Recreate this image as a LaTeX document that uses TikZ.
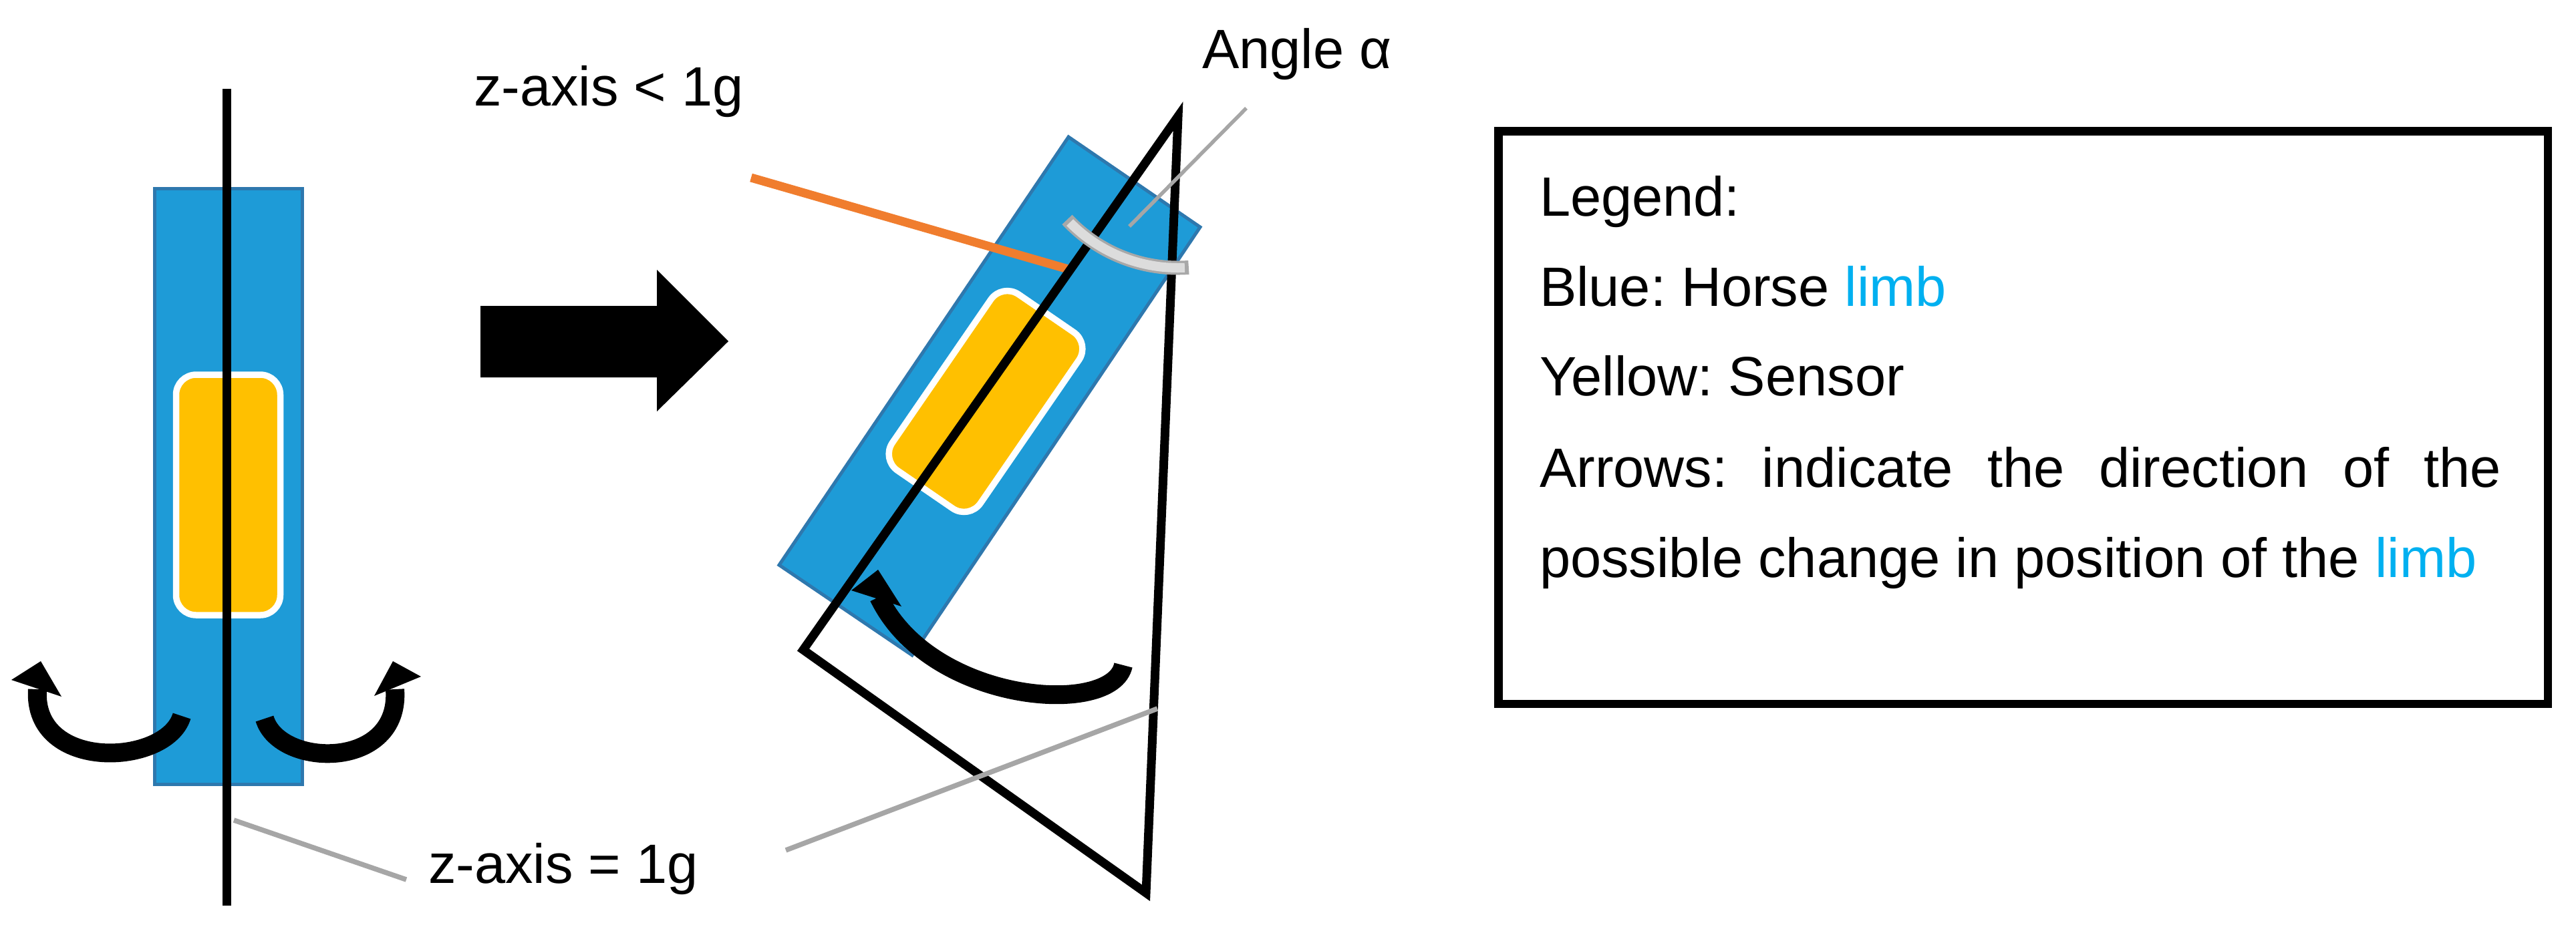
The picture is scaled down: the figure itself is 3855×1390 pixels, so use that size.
\documentclass[tikz,border=0pt]{standalone}
\usepackage{fontspec}
\setmainfont{Liberation Sans}
\frenchspacing
\definecolor{limbblue}{HTML}{1E9BD7}
\definecolor{limbedge}{HTML}{2E78AE}
\definecolor{sensor}{HTML}{FFC000}
\definecolor{orangeline}{HTML}{F07D2E}
\definecolor{callgray}{HTML}{A6A6A6}
\definecolor{arcgray}{HTML}{A8A8A8}
\definecolor{arclight}{HTML}{DCDCDC}
\definecolor{legblue}{HTML}{00B0F0}
\begin{document}
\begin{tikzpicture}[x=0.1pt,y=-0.1pt,
  lbl/.style={font=\fontsize{8.3}{10}\selectfont, inner sep=0pt, anchor=base west},
  limbshape/.style={fill=limbblue, draw=limbedge, line width=0.5pt},
  sensorshape/.style={fill=sensor, draw=white, line width=0.95pt, rounded corners=3pt},
  curvarrow/.style={line width=2.8pt},
  headshape/.style={fill=black},
  axisline/.style={line width=1.3pt, line join=miter},
  callout/.style={draw=callgray, line width=0.75pt}]
\useasboundingbox (0,0) rectangle (3855,1390);

% ---------- left: vertical limb ----------
\draw[limbshape] (231.5,282.5) rectangle (452.5,1174.5);
\draw[sensorshape] (263.5,561) rectangle (419.5,921);
\coordinate (vtop) at (339,133);
\coordinate (vbot) at (339,1356);
\draw[axisline] (vtop) -- (vbot);

% curved arrows (left limb)
\coordinate (la0) at (272,1072);
\coordinate (la1) at (56,1032);
\draw[curvarrow] (la0) .. controls (250,1147) and (48,1157) .. (la1);
\fill[headshape] (61,990) -- (17,1018) -- (92,1043) -- cycle;
\coordinate (ra0) at (396,1076);
\coordinate (ra1) at (591,1032);
\draw[curvarrow] (ra0) .. controls (418,1150) and (600,1154) .. (ra1);
\fill[headshape] (588,990) -- (560,1042) -- (630,1013) -- cycle;

% gray callout to "z-axis = 1g"
\node[lbl] (zeq) at (639,1322) {z-axis = 1g};
\coordinate (g1a) at (350,1228);
\coordinate (g1b) at (608,1317);
\draw[callout] (g1a) -- (g1b);

% ---------- big transition arrow ----------
\fill (719,458) -- (983,458) -- (983,404) -- (1090,511) -- (983,616) -- (983,565) -- (719,565) -- cycle;

% ---------- right: tilted limb ----------
\node[lbl] (zless) at (707,158) {z-axis < 1g};
\draw[limbshape] (1599,205) -- (1796,340) -- (1365,981) -- (1166,846) -- cycle;
\begin{scope}[shift={(1475,601)}, rotate=-34.5]
  \draw[sensorshape] (-80,-160) rectangle (80,160);
\end{scope}

% orange line
\coordinate (or0) at (1124,266);
\coordinate (or1) at (1602,404);
\draw[orangeline, line width=1.3pt] (or0) -- (or1);

% triangle (tilted axis)
\coordinate (A) at (1763,174);
\coordinate (B) at (1202,973);
\coordinate (C) at (1715,1337);
\draw[axisline] (A) -- (B) -- (C) -- cycle;

% angle arc
\draw[arcgray, line width=2.1pt] (A) ++(137:227) arc[start angle=137, end angle=86, radius=227];
\draw[arclight, line width=1.4pt] (A) ++(135.5:227) arc[start angle=135.5, end angle=87.5, radius=227];

% angle callout
\node[lbl] (angle) at (1797,102) {Angle α};
\coordinate (g2a) at (1690,339);
\coordinate (g2b) at (1865,162);
\draw[callgray, line width=0.55pt] (g2a) -- (g2b);

% curved arrow tilted
\coordinate (ta0) at (1681,996);
\coordinate (ta1) at (1315,894);
\draw[curvarrow] (ta0) .. controls (1665,1074) and (1392,1054) .. (ta1);
\fill[headshape] (1314,853) -- (1274,884) -- (1349,908) -- cycle;

% lower gray callout
\coordinate (g3a) at (1176,1273);
\coordinate (g3b) at (1732,1061);
\draw[callout] (g3a) -- (g3b);

% ---------- legend ----------
\node[draw, line width=1.25pt, minimum width=157.1pt, minimum height=85.8pt, inner sep=0pt, anchor=north west] (legbox) at (2236,190) {};
\node[lbl] (l1) at (2302,323) {Legend:};
\node[lbl] (l2) at (2302,458) {Blue: Horse \textcolor{legblue}{limb}};
\node[lbl] (l3) at (2302,592) {Yellow: Sensor};
\node[lbl] (l4) at (2302,729) {\makebox[143.9pt][s]{Arrows: indicate the direction of the}};
\node[lbl] (l5) at (2302,864) {possible change in position of the \textcolor{legblue}{limb}};
\end{tikzpicture}
\end{document}
